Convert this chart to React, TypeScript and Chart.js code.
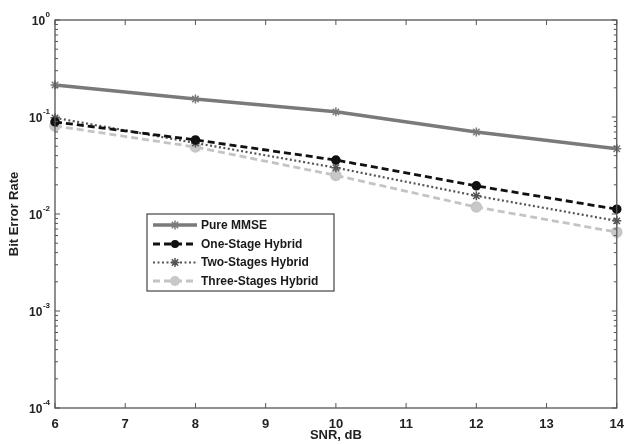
import React, { useEffect, useRef } from 'react';
import { Chart, registerables } from 'chart.js';
Chart.register(...registerables);

const snrDb = [6, 8, 10, 12, 14];
const pureMMSE = [0.214, 0.153, 0.113, 0.07, 0.047];
const oneStageHybrid = [0.089, 0.058, 0.036, 0.0195, 0.0112];
const twoStagesHybrid = [0.098, 0.054, 0.03, 0.0154, 0.0085];
const threeStagesHybrid = [0.081, 0.049, 0.025, 0.0118, 0.0065];
const xTickValues = [6, 7, 8, 9, 10, 11, 12, 13, 14];
const yExponents = [0, -1, -2, -3, -4];
const seriesNames = ['Pure MMSE', 'One-Stage Hybrid', 'Two-Stages Hybrid', 'Three-Stages Hybrid'];

const FONT = '"Liberation Sans", Arial, Helvetica, sans-serif';

type Style = { color: string; width: number; dash: number[]; point: any; radius: number; fill: string };
const styles: Style[] = [
  { color: '#7a7a7a', width: 3.5, dash: [], point: 'star', radius: 4.5, fill: '#7a7a7a' },
  { color: '#111111', width: 2.8, dash: [7, 4], point: 'circle', radius: 4, fill: '#111111' },
  { color: '#555555', width: 2.2, dash: [2, 2.5], point: 'star', radius: 4.5, fill: '#555555' },
  { color: '#c4c4c4', width: 2.8, dash: [7, 4], point: 'circle', radius: 5, fill: '#c8c8c8' },
];
const seriesValues = [pureMMSE, oneStageHybrid, twoStagesHybrid, threeStagesHybrid];

const framePlugin = {
  id: 'frame',
  afterDraw(chart: any) {
    const { ctx, chartArea: a, scales } = chart;
    const xs = scales.x;
    const ys = scales.y;
    ctx.save();
    ctx.strokeStyle = '#555';
    ctx.lineWidth = 1.3;
    ctx.setLineDash([]);
    ctx.strokeRect(a.left, a.top, a.right - a.left, a.bottom - a.top);
    ctx.lineWidth = 1;
    xTickValues.forEach((v) => {
      const px = xs.getPixelForValue(v);
      ctx.beginPath();
      ctx.moveTo(px, a.bottom);
      ctx.lineTo(px, a.bottom - 5);
      ctx.moveTo(px, a.top);
      ctx.lineTo(px, a.top + 5);
      ctx.stroke();
    });
    for (let e = -4; e <= 0; e++) {
      const major = Math.pow(10, e);
      const py = ys.getPixelForValue(major);
      ctx.beginPath();
      ctx.moveTo(a.left, py);
      ctx.lineTo(a.left + 5, py);
      ctx.moveTo(a.right, py);
      ctx.lineTo(a.right - 5, py);
      ctx.stroke();
      if (e < 0) {
        for (let m = 2; m <= 9; m++) {
          const pm = ys.getPixelForValue(m * major);
          ctx.beginPath();
          ctx.moveTo(a.left, pm);
          ctx.lineTo(a.left + 3, pm);
          ctx.moveTo(a.right, pm);
          ctx.lineTo(a.right - 3, pm);
          ctx.stroke();
        }
      }
    }
    ctx.fillStyle = '#222';
    ctx.textBaseline = 'middle';
    yExponents.forEach((e) => {
      const py = ys.getPixelForValue(Math.pow(10, e));
      const exp = String(e);
      ctx.font = `bold 8px ${FONT}`;
      ctx.textAlign = 'right';
      const ew = ctx.measureText(exp).width;
      ctx.fillText(exp, 50, py - 5);
      ctx.font = `bold 12px ${FONT}`;
      ctx.fillText('10', 50 - ew - 0.5, py + 1.5);
    });
    const lx = 147, ly = 214, lw = 187, lh = 77;
    ctx.fillStyle = '#fff';
    ctx.fillRect(lx, ly, lw, lh);
    ctx.strokeStyle = '#444';
    ctx.lineWidth = 1.2;
    ctx.strokeRect(lx, ly, lw, lh);
    const rows = [225, 244, 262.5, 281];
    seriesNames.forEach((name, i) => {
      const s = styles[i];
      const y = rows[i];
      ctx.strokeStyle = s.color;
      ctx.lineWidth = s.width;
      ctx.setLineDash(s.dash);
      ctx.beginPath();
      ctx.moveTo(153, y);
      ctx.lineTo(197, y);
      ctx.stroke();
      ctx.setLineDash([]);
      ctx.lineWidth = 1.5;
      ctx.fillStyle = s.fill;
      const cx = 175;
      if (s.point === 'circle') {
        ctx.beginPath();
        ctx.arc(cx, y, s.radius, 0, Math.PI * 2);
        ctx.fill();
      } else {
        const r = s.radius;
        ctx.beginPath();
        for (let k = 0; k < 4; k++) {
          const ang = (k * Math.PI) / 4;
          ctx.moveTo(cx - Math.cos(ang) * r, y - Math.sin(ang) * r);
          ctx.lineTo(cx + Math.cos(ang) * r, y + Math.sin(ang) * r);
        }
        ctx.stroke();
      }
      ctx.fillStyle = '#1a1a1a';
      ctx.font = `bold 12px ${FONT}`;
      ctx.textAlign = 'left';
      ctx.textBaseline = 'middle';
      ctx.fillText(name, 201, y + 0.5);
    });
    ctx.restore();
  },
};

export default function App() {
  const ref = useRef<HTMLCanvasElement | null>(null);
  useEffect(() => {
    document.body.style.margin = '0';
    const canvas = ref.current!;
    const chart = new Chart(canvas, {
      type: 'line',
      data: {
        datasets: seriesNames.map((name, i) => ({
          label: name,
          data: snrDb.map((x, j) => ({ x, y: seriesValues[i][j] })),
          borderColor: styles[i].color,
          backgroundColor: styles[i].fill,
          borderWidth: styles[i].width,
          borderDash: styles[i].dash,
          pointStyle: styles[i].point,
          pointRadius: styles[i].radius,
          pointBorderColor: styles[i].color,
          pointBackgroundColor: styles[i].fill,
          pointBorderWidth: 1.5,
          tension: 0,
          fill: false,
          clip: false,
        })),
      },
      options: {
        responsive: false,
        animation: false,
        devicePixelRatio: 1,
        layout: { padding: { top: 20, right: 4, left: 0, bottom: 0 } },
        plugins: { legend: { display: false }, tooltip: { enabled: false } },
        scales: {
          x: {
            type: 'linear',
            min: 6,
            max: 14,
            grid: { display: false },
            border: { display: false },
            ticks: {
              stepSize: 1,
              color: '#222',
              font: { family: FONT, size: 13, weight: 'bold' },
              padding: 1,
              maxRotation: 0,
            },
            title: {
              display: true,
              text: 'SNR, dB',
              color: '#222',
              font: { family: FONT, size: 13, weight: 'bold' },
              padding: { top: 0, bottom: 1 },
            },
            afterFit(scale: any) {
              scale.height = 36;
            },
          },
          y: {
            type: 'logarithmic',
            min: 1e-4,
            max: 1,
            grid: { display: false },
            border: { display: false },
            ticks: { display: false },
            title: {
              display: true,
              text: 'Bit Error Rate',
              color: '#222',
              font: { family: FONT, size: 13, weight: 'bold' },
              padding: { top: 7, bottom: 0 },
            },
            afterFit(scale: any) {
              scale.width = 55;
            },
          },
        },
      } as any,
      plugins: [framePlugin],
    });
    return () => chart.destroy();
  }, []);
  return <canvas ref={ref} width={625} height={444} style={{ display: 'block' }} />;
}
